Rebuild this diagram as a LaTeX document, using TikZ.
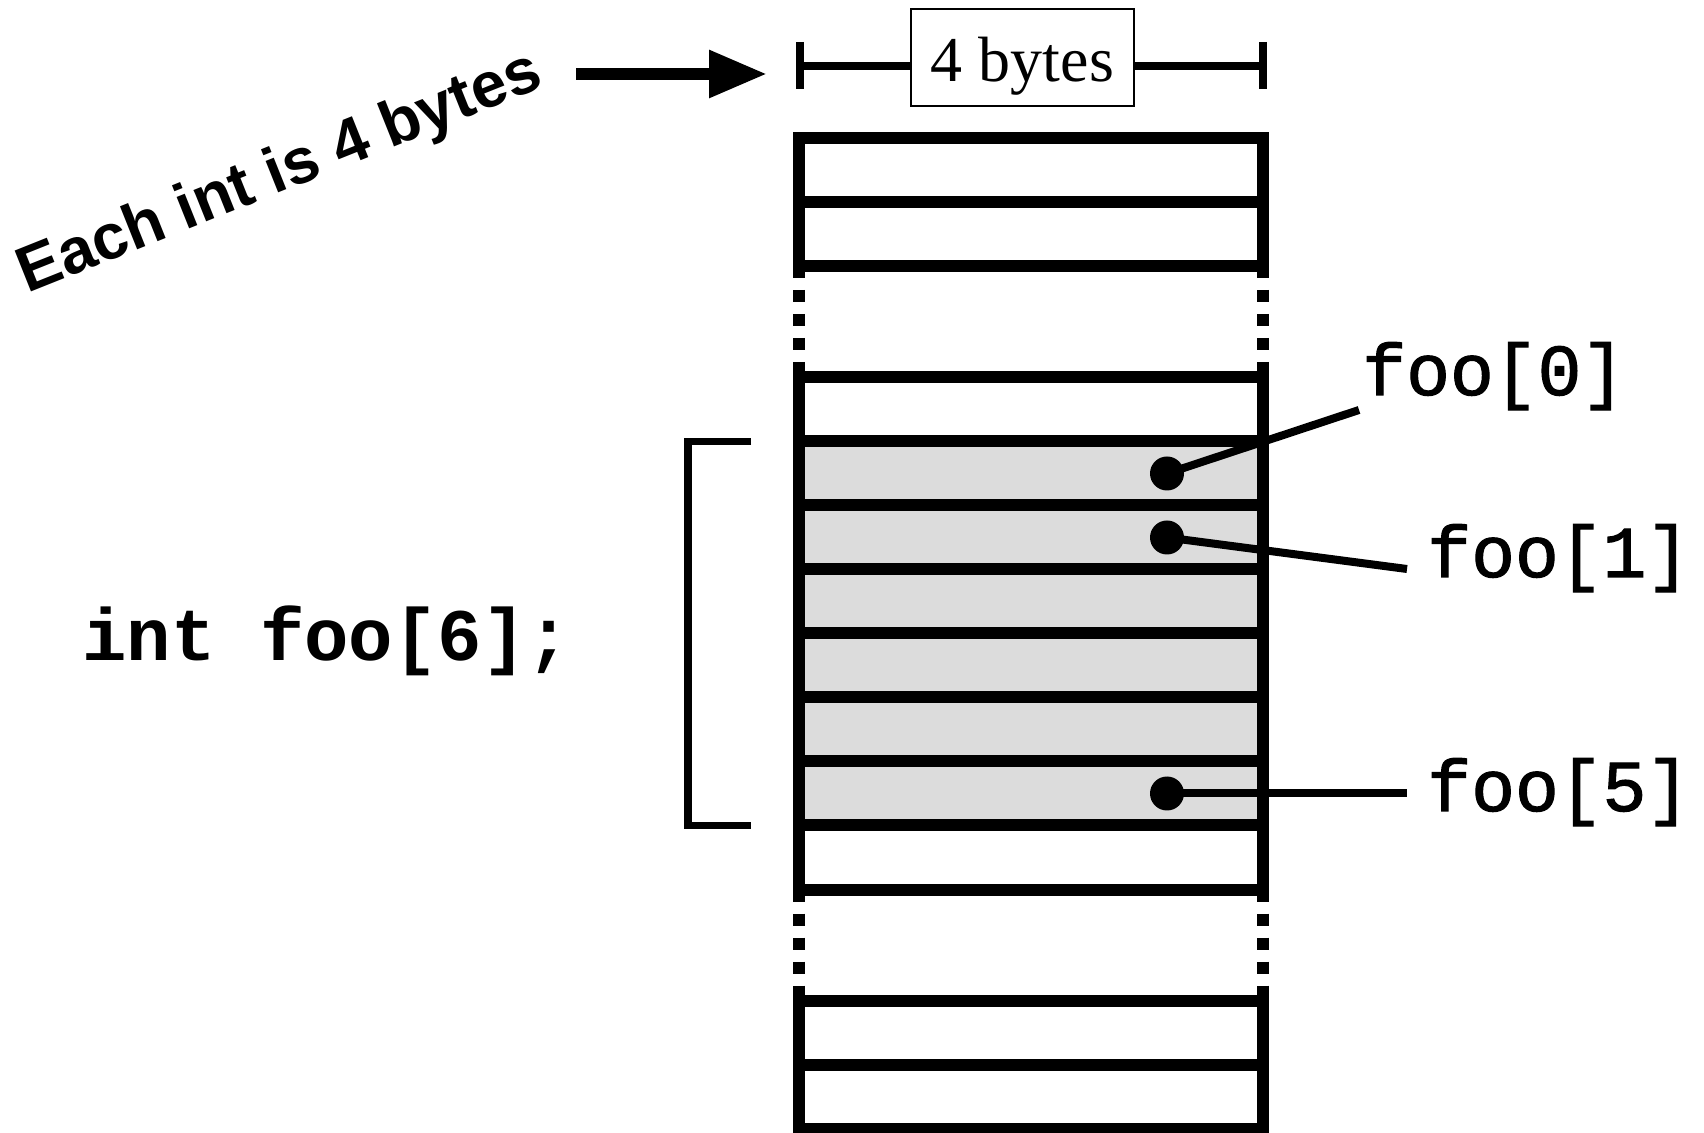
\documentclass[tikz,border=0pt]{standalone}
\usepackage{fontspec}
\setmainfont{Liberation Serif}
\newfontfamily\headfont{Liberation Sans}
\newfontfamily\codefont{Liberation Mono}
\newfontfamily\labelfont{Liberation Mono}[FakeBold=1.6]
\usetikzlibrary{arrows.meta}
\definecolor{cellshade}{RGB}{220,220,220}
\begin{document}
\begin{tikzpicture}[x=0.5pt,y=-0.5pt,
  cell/.style={draw, line width=6pt, minimum width=232pt, minimum height=32pt, inner sep=0pt, outer sep=0pt},
  shadedcell/.style={cell, fill=cellshade},
  gapline/.style={line width=6pt, dash pattern=on 6pt off 6pt},
  dimline/.style={line width=4pt},
  pin/.style={circle, fill=black, minimum size=17pt, inner sep=0pt, outer sep=0pt},
  lead/.style={line width=4pt},
  lbl/.style={font=\labelfont\fontsize{36.5pt}{40pt}\selectfont, inner sep=0pt, anchor=base west},
  ]
\useasboundingbox (0,0) rectangle (1704,1133);

% memory column
\node[cell] (t1) at (1031,170) {};
\node[cell] (t2) at (1031,234) {};
\node[cell] (m1) at (1031,409.5) {};
\node[shadedcell] (m2) at (1031,473.5) {};
\node[shadedcell] (m3) at (1031,537.5) {};
\node[shadedcell] (m4) at (1031,601.5) {};
\node[shadedcell] (m5) at (1031,665.5) {};
\node[shadedcell] (m6) at (1031,729.5) {};
\node[shadedcell] (m7) at (1031,793.5) {};
\node[cell] (m8) at (1031,857.5) {};
\node[cell] (b1) at (1031,1033) {};
\node[cell] (b2) at (1031,1097) {};

% dotted continuations
\draw[gapline] (t2.south west) -- (m1.north west);
\draw[gapline] (t2.south east) -- (m1.north east);
\draw[gapline] (m8.south west) -- (b1.north west);
\draw[gapline] (m8.south east) -- (b1.north east);

% size dimension
\node[draw, line width=0.75pt, minimum width=111.5pt, text height=36.5pt, text depth=12pt, inner ysep=0pt, inner xsep=0pt, font=\fontsize{32pt}{36pt}\selectfont] (bytes) at (1022.5,57.5) {4 bytes};
\coordinate (tl) at (800,66);
\coordinate (tr) at (1263,66);
\coordinate (tlt) at (800,42);
\coordinate (tlb) at (800,89);
\coordinate (trt) at (1263,42);
\coordinate (trb) at (1263,89);
\draw[dimline] (tlt) -- (tlb);
\draw[dimline] (trt) -- (trb);
\draw[dimline] (tl) -- (tl -| bytes.west);
\draw[dimline] (bytes.east |- tr) -- (tr);

% arrow and rotated caption
\coordinate (as) at (576,74);
\coordinate (ae) at (767,74);
\draw[line width=6pt, -{Triangle[length=29pt,width=22.5pt]}] (as) -- (ae);
\node[font=\headfont\bfseries\fontsize{32pt}{36pt}\selectfont, rotate=21.8, anchor=base west, inner sep=0pt] (each) at (27,294) {Each int is 4 bytes};

% declaration and bracket
\node[font=\codefont\bfseries\fontsize{37pt}{40pt}\selectfont, anchor=base west, inner sep=0pt] (decl) at (82,661) {int foo[6];};
\coordinate (bt) at (751,441.5);
\coordinate (btc) at (688,441.5);
\coordinate (bbc) at (688,825.5);
\coordinate (bb) at (751,825.5);
\draw[line width=3.8pt] (bt) -- (btc) -- (bbc) -- (bb);

% element pointers
\node[pin] (d0) at (1167,473.5) {};
\node[pin] (d1) at (1167,537.5) {};
\node[pin] (d5) at (1167,793.5) {};
\coordinate (e0) at (1359,410);
\coordinate (e1) at (1407,569);
\coordinate (e5) at (1407,793.5);
\draw[lead] (d0.center) -- (e0);
\draw[lead] (d1.center) -- (e1);
\draw[lead] (d5.center) -- (e5);
\node[lbl] (f0) at (1362,395) {foo[0]};
\node[lbl] (f1) at (1427,577) {foo[1]};
\node[lbl] (f5) at (1427,811) {foo[5]};
\end{tikzpicture}
\end{document}
